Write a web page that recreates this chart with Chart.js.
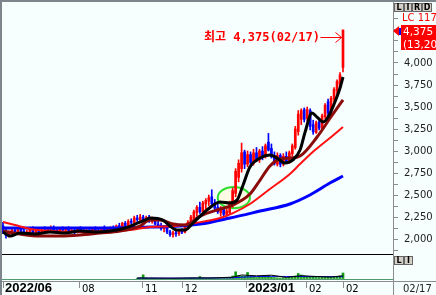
<!DOCTYPE html>
<html>
<head>
<meta charset="utf-8">
<script src="https://cdn.jsdelivr.net/npm/chart.js@4.4.0/dist/chart.umd.min.js"></script>
<style>
html, body { margin: 0; padding: 0; }
body { width: 436px; height: 295px; position: relative; overflow: hidden; background: #f6fefe; font-family: "DejaVu Sans", sans-serif; }
#frame { position: absolute; left: 0; top: 0; width: 434px; height: 293px; border-left: 2px solid #7d868c; border-top: 2px solid #7d868c; }
#c { position: absolute; left: 2px; top: 2px; }
.btn { position: absolute; box-sizing: border-box; height: 9px; background: #d4d0c8; border: 1px solid #666; font: bold 8px "DejaVu Sans"; line-height: 7px; text-align: center; color: #000; }
#hi { position: absolute; left: 204px; top: 31px; color: #ff0000; font: bold 12px "DejaVu Sans Mono", "Noto Sans CJK KR"; line-height: 12px; white-space: nowrap; }
#lc { position: absolute; left: 400px; top: 12px; width: 36px; height: 12px; background: #f6fefe; color: #ff0000; font: 10px "DejaVu Sans"; line-height: 12px; padding-left: 2px; white-space: nowrap; overflow: hidden; }
#box { position: absolute; left: 401px; top: 25px; width: 35px; height: 25px; background: #ff0000; color: #fff; font: 10.5px "DejaVu Sans"; line-height: 13px; padding-left: 2px; white-space: nowrap; overflow: hidden; }
#tri { position: absolute; left: 393px; top: 26px; width: 0; height: 0; border-top: 5px solid transparent; border-bottom: 5px solid transparent; border-right: 6px solid #ff0000; }
#bar { position: absolute; left: 399px; top: 28px; width: 2px; height: 7px; background: #0000ff; }
#date { position: absolute; left: 403px; top: 283px; font: 10px "DejaVu Sans"; color: #222; line-height: 11px; }
</style>
</head>
<body>
<div id="frame"></div>
<canvas id="c" width="434" height="293"></canvas>
<div id="hi"></div>
<div id="lc">LC 117</div>
<div id="box">4,375<br>(13,20%)</div>
<div id="tri"></div>
<div id="bar"></div>
<div class="btn" style="left:394px;top:3px;width:10px;">L</div>
<div class="btn" style="left:404px;top:3px;width:8px;">I</div>
<div class="btn" style="left:412px;top:3px;width:10px;">R</div>
<div class="btn" style="left:422px;top:3px;width:10px;">D</div>
<div class="btn" style="left:394px;top:256px;width:10px;">L</div>
<div class="btn" style="left:404px;top:256px;width:9px;">I</div>
<div id="date">02/17</div>
<script>
// daily candles, index 0 = first day in view (2022/06)
var opens = [2150,2080,2040,2070,2100,2080,2110,2090,2060,2080,2120,2070,2090,2070,2100,2090,2110,2120,2100,2090,
  2110,2100,2110,2090,2100,2080,2110,2100,2080,2100,2090,2110,2100,2090,2120,2100,2110,2130,2110,2150,
  2140,2180,2150,2200,2190,2240,2220,2250,2210,2240,2200,2230,2170,2150,2120,2140,2080,2050,2070,2060,
  2090,2080,2140,2180,2230,2300,2360,2310,2400,2430,2480,2410,2360,2300,2340,2280,2300,2380,2520,2700,
  2800,2990,2850,2960,2860,2980,2900,3000,2940,3100,3030,2950,2850,2950,2850,2940,2880,2970,3040,3220,
  3360,3470,3370,3460,3300,3210,3330,3260,3390,3560,3430,3590,3690,3760,3950];
var highs = [2190,2110,2090,2120,2130,2120,2140,2110,2100,2130,2140,2100,2110,2110,2140,2130,2150,2150,2130,2120,
  2140,2130,2140,2110,2130,2120,2140,2120,2110,2130,2120,2140,2120,2130,2150,2130,2140,2150,2160,2180,
  2190,2200,2220,2230,2260,2270,2280,2270,2260,2270,2250,2240,2200,2180,2150,2150,2100,2090,2090,2100,
  2120,2160,2210,2270,2330,2380,2420,2430,2460,2500,2560,2450,2420,2370,2360,2340,2430,2580,2800,2900,
  3090,3010,3000,2990,3020,3040,3020,3050,3080,3200,3080,2990,2980,2970,2970,2990,3000,3080,3280,3460,
  3480,3490,3500,3480,3350,3340,3370,3420,3540,3590,3620,3720,3810,3890,4375];
var lows = [2060,2010,2020,2050,2060,2060,2070,2040,2040,2070,2060,2040,2060,2060,2080,2070,2100,2090,2080,2070,
  2090,2080,2080,2070,2060,2070,2090,2060,2060,2080,2050,2090,2070,2080,2090,2080,2100,2090,2100,2120,
  2130,2140,2140,2170,2180,2200,2210,2200,2200,2190,2180,2160,2130,2100,2080,2060,2030,2020,2030,2040,
  2060,2070,2110,2160,2210,2260,2290,2300,2340,2380,2380,2330,2290,2260,2260,2260,2280,2360,2480,2650,
  2760,2800,2820,2840,2840,2880,2870,2900,2920,3000,2920,2840,2830,2820,2830,2860,2860,2940,3020,3180,
  3300,3330,3340,3240,3190,3200,3240,3250,3370,3400,3400,3560,3650,3740,3900];
var closes = [2080,2040,2070,2100,2080,2110,2090,2060,2080,2120,2070,2090,2070,2100,2090,2110,2120,2100,2090,2110,
  2100,2110,2090,2100,2080,2110,2100,2080,2100,2090,2110,2100,2090,2120,2100,2110,2130,2110,2150,2140,
  2180,2150,2200,2190,2240,2220,2250,2210,2240,2200,2230,2170,2150,2120,2140,2080,2050,2070,2060,2090,
  2080,2150,2190,2250,2310,2360,2310,2410,2440,2470,2400,2350,2310,2340,2280,2320,2400,2550,2770,2860,
  2980,2850,2960,2870,2980,2910,3000,2940,3060,3010,2940,2860,2950,2850,2940,2880,2980,3060,3250,3420,
  3460,3360,3470,3280,3220,3320,3260,3400,3520,3430,3600,3700,3790,3865,4375];
// volume, thousand shares (no bars shown before index 45)
var volumes = [null,null,null,null,null,null,null,null,null,null,null,null,null,null,null,null,null,null,null,null,
  null,null,null,null,null,null,null,null,null,null,null,null,null,null,null,null,null,null,null,null,
  null,null,null,null,null,80,120,420,100,60,80,60,50,70,60,50,60,20,20,20,
  30,80,90,100,120,90,250,110,100,90,120,80,70,60,70,80,150,300,720,350,
  300,280,650,250,200,150,180,220,300,350,200,150,120,100,130,120,150,200,300,550,
  400,300,250,200,180,160,150,170,200,220,180,200,250,300,600];

// moving averages: position (day index) and price
var ma5Idx = [0,2.35,5.7,10.7,15.8,20.8,25.8,30.8,35.9,40.9,44.3,47.6,49.3,53.6,56,58.3,61,63.7,68.4,72.8,76.1,78.5,80.5,82.8,86.2,89.5,91.9,94.5,97.2,99.6,101.3,103.6,105.3,107.3,109,111.3,113,114];
var ma5 = [2080,2034,2068,2057,2080,2068,2091,2080,2091,2125,2170,2216,2239,2216,2148,2102,2102,2182,2330,2420,2409,2443,2614,2818,2920,2955,2920,2864,2898,3011,3216,3432,3386,3330,3386,3557,3716,3841];
var ma20Idx = [0,5.7,12.4,19.1,25.8,32.5,39.2,45.9,49.3,52.6,57,61,66.1,72.8,77.1,82.8,86.2,89.5,92.9,96.2,99.6,105.3,109.7,114];
var ma20 = [2091,2057,2034,2034,2045,2068,2091,2148,2216,2216,2170,2159,2261,2341,2386,2511,2670,2830,2909,2920,2943,3159,3375,3580];
var ma60Idx = [0,4,9.05,15.8,25.8,35.9,42.6,49.3,57.7,64.4,72.8,77.1,82.8,89.5,96.2,99.6,104.6,109.6,114];
var ma60 = [2193,2159,2114,2091,2080,2091,2102,2136,2148,2182,2239,2295,2398,2568,2739,2852,3011,3148,3273];
var ma120Idx = [0,32.5,49.3,59.3,66.1,76.1,86.2,96.2,102.9,109.6,114];
var ma120 = [2125,2125,2136,2148,2170,2239,2318,2398,2500,2636,2716];
var volMaIdx = [45,52,57,62,70,77,80,85,90,95,100,105,110,114];
var volMa5 = [100,90,80,100,110,180,400,320,380,160,330,250,200,320];
var volMa20 = [90,90,90,95,100,120,180,250,270,250,250,240,230,240];

var xTickIdx = [0, 25.8, 46.9, 60.3, 81.5, 101.9, 114.3];
var xTickLabels = ['2022/06', '08', '11', '12', '2023/01', '02', '02'];
// price axis marks every 125, labelled every 250
var priceTicks = [1875,2000,2125,2250,2375,2500,2625,2750,2875,3000,3125,3250,3375,3500,3625,3750,3875,4000,4125,4250,4375,4500,4625];

// highlighted area (green ring) in data units
var ringIdx = 77.4, ringPrice = 2470, ringHalfIdx = 5.4, ringHalfPrice = 120;

var UP = '#ff0000', DOWN = '#0000ff';
var last = closes.length - 1;
var maxHigh = Math.max.apply(null, highs);
function fmt(v){ return v.toLocaleString('en-US'); }
document.getElementById('hi').textContent = '최고 ' + fmt(maxHigh) + '(02/17)';

function pts(idx, vals){ return idx.map(function(x, k){ return {x: x, y: vals[k]}; }); }
function candleColor(ctx){ var i = ctx.dataIndex; return closes[i] >= opens[i] ? UP : DOWN; }

var marks = {
  id: 'marks',
  beforeDatasetsDraw: function(chart){
    var ctx = chart.ctx, x = chart.scales.x, y = chart.scales.y;
    var cx = x.getPixelForValue(ringIdx), cy = y.getPixelForValue(ringPrice);
    var rx = x.getPixelForValue(ringIdx + ringHalfIdx) - cx;
    var ry = cy - y.getPixelForValue(ringPrice + ringHalfPrice);
    ctx.save();
    ctx.beginPath();
    ctx.ellipse(cx, cy, rx, ry, 0, 0, Math.PI * 2);
    ctx.fillStyle = '#fdfbe4';
    ctx.fill();
    ctx.lineWidth = 2;
    ctx.strokeStyle = '#2ee02e';
    ctx.stroke();
    ctx.restore();
  },
  afterDraw: function(chart){
    var ctx = chart.ctx, x = chart.scales.x, y = chart.scales.y, a = chart.chartArea;
    // arrow from the label to the top candle
    var tx = Math.round(x.getPixelForValue(last)) - 1.5;
    var ty = Math.round(y.getPixelForValue(maxHigh)) + 7.5;
    ctx.save();
    ctx.strokeStyle = '#ff0000';
    ctx.lineWidth = 1;
    ctx.beginPath();
    ctx.moveTo(tx - 21, ty); ctx.lineTo(tx, ty);
    ctx.moveTo(tx - 6, ty - 5); ctx.lineTo(tx, ty); ctx.lineTo(tx - 6, ty + 5);
    ctx.stroke();
    // frame lines into the label row / axis column
    ctx.strokeStyle = '#8c8c8c';
    ctx.beginPath();
    ctx.moveTo(a.right + 0.5, a.bottom); ctx.lineTo(a.right + 0.5, chart.height);
    ctx.moveTo(a.right, a.bottom + 0.5); ctx.lineTo(chart.width, a.bottom + 0.5);
    ctx.stroke();
    ctx.restore();
  }
};

function noPad(axis){ axis.paddingTop = 0; axis.paddingBottom = 0; axis.paddingLeft = 0; axis.paddingRight = 0; }

new Chart(document.getElementById('c'), {
  type: 'bar',
  data: {
    datasets: [
      {type: 'line', data: pts(ma5Idx, ma5), borderColor: '#000000', borderWidth: 3, pointRadius: 0, order: 0, yAxisID: 'y', cubicInterpolationMode: 'monotone'},
      {type: 'line', data: pts(ma20Idx, ma20), borderColor: '#8b0a0a', borderWidth: 3, pointRadius: 0, order: 1, yAxisID: 'y', cubicInterpolationMode: 'monotone'},
      {type: 'line', data: pts(ma60Idx, ma60), borderColor: '#ff1010', borderWidth: 2, pointRadius: 0, order: 2, yAxisID: 'y', cubicInterpolationMode: 'monotone'},
      {type: 'line', data: pts(ma120Idx, ma120), borderColor: '#0000ff', borderWidth: 3, pointRadius: 0, order: 3, yAxisID: 'y', cubicInterpolationMode: 'monotone'},
      {data: closes.map(function(c, i){ return {x: i, y: [opens[i], c]}; }), backgroundColor: candleColor, barThickness: 2, minBarLength: 1, grouped: false, order: 5, yAxisID: 'y'},
      {data: lows.map(function(l, i){ return {x: i, y: [l, highs[i]]}; }), backgroundColor: candleColor, barThickness: 1, grouped: false, order: 6, yAxisID: 'y'},
      {type: 'line', data: pts(volMaIdx, volMa5), borderColor: '#000000', borderWidth: 1, pointRadius: 0, order: 7, yAxisID: 'yv'},
      {type: 'line', data: pts(volMaIdx, volMa20), borderColor: '#0000ff', borderWidth: 1, pointRadius: 0, order: 8, yAxisID: 'yv'},
      {data: volumes.map(function(v, i){ return {x: i, y: v}; }), backgroundColor: '#129a12', barThickness: 2, grouped: false, order: 9, yAxisID: 'yv'}
    ]
  },
  options: {
    responsive: false,
    animation: false,
    layout: {padding: 0},
    plugins: {legend: {display: false}, tooltip: {enabled: false}},
    scales: {
      x: {
        type: 'linear', min: -0.3353, max: 130.765, offset: false,
        afterBuildTicks: function(axis){ axis.ticks = xTickIdx.map(function(v){ return {value: v}; }); },
        afterFit: function(axis){ axis.height = 14; noPad(axis); },
        border: {color: '#8c8c8c'},
        grid: {drawOnChartArea: false, offset: false, tickLength: 7, color: '#8c8c8c'},
        ticks: {
          autoSkip: false, maxRotation: 0, align: 'start', labelOffset: 2, padding: -6.5, color: '#000',
          font: function(ctx){
            return xTickLabels[ctx.index] && xTickLabels[ctx.index].indexOf('/') > 0
              ? {family: 'Liberation Sans', size: 13, weight: 'bold', lineHeight: 14 / 13}
              : {family: 'DejaVu Sans', size: 10, lineHeight: 1.6};
          },
          callback: function(v, i){ return xTickLabels[i]; }
        }
      },
      y: {
        position: 'right', stack: 'pane', stackWeight: 252, min: 1830, max: 4693,
        afterBuildTicks: function(axis){ axis.ticks = priceTicks.map(function(v){ return {value: v}; }); },
        afterFit: function(axis){ axis.width = 43; noPad(axis); },
        border: {color: '#8c8c8c'},
        grid: {drawOnChartArea: false, tickLength: 5, color: '#8c8c8c'},
        ticks: {
          autoSkip: false, padding: 6, color: '#222',
          font: {family: 'DejaVu Sans', size: 10},
          callback: function(v){ return v % 250 === 0 ? fmt(v) : ''; }
        }
      },
      yv: {
        position: 'right', stack: 'pane', stackWeight: 27, min: -200, max: 2500,
        afterBuildTicks: function(axis){ axis.ticks = [{value: 0}, {value: 2500}]; },
        afterFit: function(axis){ axis.width = 43; noPad(axis); },
        border: {color: '#8c8c8c'},
        grid: {drawTicks: false, color: function(ctx){ return ctx.tick && ctx.tick.value === 0 ? '#4f9a6f' : '#000000'; }},
        ticks: {display: false}
      }
    }
  },
  plugins: [marks]
});
</script>
</body>
</html>
